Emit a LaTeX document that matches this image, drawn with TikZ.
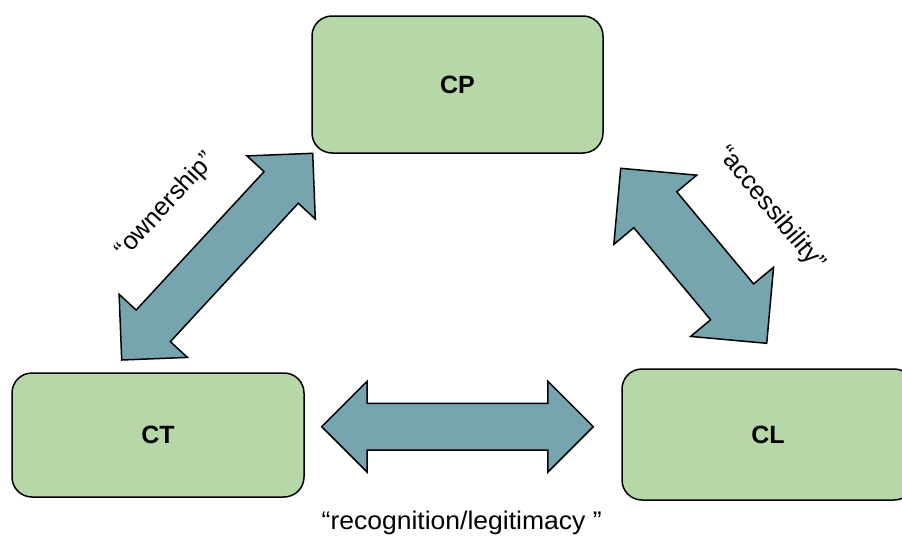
\documentclass[tikz,border=0pt]{standalone}
\usepackage{fontspec}
\setmainfont{Liberation Sans}
\usetikzlibrary{calc}

\definecolor{boxgreen}{HTML}{B6D7A8}
\definecolor{arrowteal}{HTML}{76A5AF}

\tikzset{
  concept/.style={draw=black, line width=1.5pt, fill=boxgreen,
    rounded corners=20pt, inner sep=0pt,
    font=\fontsize{25}{30}\selectfont\bfseries},
  relation/.style={inner sep=0pt, font=\fontsize{25.5}{30}\selectfont},
  flow/.style={draw=black, line width=1.5pt, fill=arrowteal, line join=miter},
  % fat double-headed arrow between two points:
  % #1 = head length, #2 = head half-width, #3 = shaft half-width
  blockarrow/.style args={#1/#2/#3}{to path={
    -- ($(\tikztostart)!#1!(\tikztotarget)!#2!90:(\tikztotarget)$)
    -- ($(\tikztostart)!#1!(\tikztotarget)!#3!90:(\tikztotarget)$)
    -- ($(\tikztotarget)!#1!(\tikztostart)!#3!-90:(\tikztostart)$)
    -- ($(\tikztotarget)!#1!(\tikztostart)!#2!-90:(\tikztostart)$)
    -- (\tikztotarget)
    -- ($(\tikztotarget)!#1!(\tikztostart)!#2!90:(\tikztostart)$)
    -- ($(\tikztotarget)!#1!(\tikztostart)!#3!90:(\tikztostart)$)
    -- ($(\tikztostart)!#1!(\tikztotarget)!#3!-90:(\tikztotarget)$)
    -- ($(\tikztostart)!#1!(\tikztotarget)!#2!-90:(\tikztotarget)$)
    -- cycle}}
}

\begin{document}
\begin{tikzpicture}[x=1pt, y=-1pt]
  \useasboundingbox (0,0) rectangle (902,538);

  % the three actors
  \node[concept, minimum width=291pt, minimum height=137pt] (cp) at (457.5,84.5) {CP};
  \node[concept, minimum width=292pt, minimum height=124pt] (ct) at (158,435) {CT};
  \node[concept, minimum width=292pt, minimum height=131pt] (cl) at (768,434.5) {CL};

  % end points of the relation arrows
  \coordinate (own-lo) at (121.7,360);
  \coordinate (own-hi) at (312.7,153.3);
  \coordinate (acc-hi) at (620.7,168.3);
  \coordinate (acc-lo) at (766.7,343.3);
  \coordinate (rec-l)  at (321.7,426.7);
  \coordinate (rec-r)  at (593.3,426.7);

  \draw[flow] (own-lo) to[blockarrow=46.5pt/46.5pt/23.3pt] (own-hi);
  \draw[flow] (acc-hi) to[blockarrow=54pt/54pt/28pt] (acc-lo);
  \draw[flow] (rec-l)  to[blockarrow=45.5pt/45.5pt/23.3pt] (rec-r);

  % relation labels
  \node[relation, rotate=47.3]  (own-txt) at (165.8,205.8) {“ownership”};
  \node[relation, rotate=-50.2] (acc-txt) at (771,209) {“accessibility”};
  \node[relation, anchor=base, xscale=1.04] (rec-txt) at (461.7,529) {“recognition/legitimacy ”};
\end{tikzpicture}
\end{document}
